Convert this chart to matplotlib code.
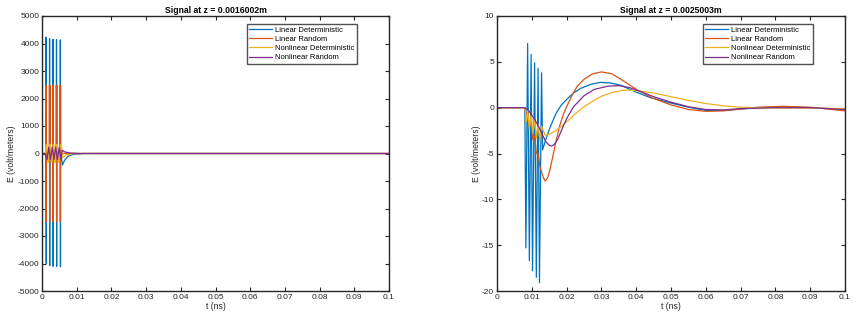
import matplotlib
matplotlib.use("Agg")
from matplotlib import pyplot as plt

plt.rcParams['font.family'] = ['Liberation Sans', 'DejaVu Sans']
plt.rcParams['axes.unicode_minus'] = False

# ---- left panel, z = 0.0016002m ----
leftLinDetT = [0, 0.00116, 0.00118, 0.00122, 0.00124,
               0.00216, 0.00218, 0.00222, 0.00224,
               0.00316, 0.00318, 0.00322, 0.00324,
               0.00416, 0.00418, 0.00422, 0.00424,
               0.00526, 0.00528, 0.00532, 0.00534,
               0.0056, 0.0059, 0.0065, 0.0075, 0.009, 0.012, 0.1]
leftLinDetE = [0, 0, 4230, -4000, 0,
               0, 4180, -4080, 0,
               0, 4150, -4100, 0,
               0, 4140, -4100, 0,
               0, 4130, -4120, 0,
               -150, -420, -250, -100, -30, 0, 0]

leftLinRanT = [0, 0.00112, 0.00115, 0.0012, 0.00125, 0.00128,
               0.00212, 0.00215, 0.0022, 0.00225, 0.00228,
               0.00312, 0.00315, 0.0032, 0.00325, 0.00328,
               0.00412, 0.00415, 0.0042, 0.00425, 0.00428,
               0.00522, 0.00525, 0.0053, 0.00535, 0.00538, 0.1]
leftLinRanE = [0, 0, 2480, -2480, 2480, 0,
               0, 2480, -2480, 2480, 0,
               0, 2480, -2480, 2480, 0,
               0, 2480, -2480, 2480, 0,
               0, 2480, -2480, 2480, 0, 0]

leftNonDetT = [0, 0.0010, 0.0012, 0.0014, 0.0017, 0.0019, 0.0022, 0.0024, 0.0027, 0.0029,
               0.0032, 0.0034, 0.0037, 0.0039, 0.0042, 0.0044, 0.0047, 0.0049, 0.0053,
               0.0055, 0.0060, 0.0070, 0.0090, 0.1]
leftNonDetE = [0, 0, 330, 330, -320, -320, 330, 330, -320, -320,
               330, 330, -320, -320, 330, 330, -320, -320, 330,
               330, -150, -50, 0, 0]

leftNonRanT = [0, 0.0009, 0.00145, 0.00195, 0.00245, 0.00295, 0.00345, 0.00395, 0.00445,
               0.00495, 0.0054, 0.0058, 0.0065, 0.008, 0.011, 0.1]
leftNonRanE = [0, 0, -220, 230, -220, 230, -220, 230, -220,
               230, -200, 120, 60, 20, 0, 0]

# ---- right panel, z = 0.0025003m ----
rightLinDetT = [0, 0.0080, 0.0083, 0.0088, 0.0093, 0.0098, 0.0102, 0.0108, 0.0113, 0.0118,
                0.0122, 0.0128, 0.0131, 0.0140, 0.0153, 0.0170, 0.0185, 0.020, 0.022, 0.024,
                0.027, 0.0297, 0.0325, 0.0355, 0.040, 0.044, 0.047, 0.050, 0.055, 0.060,
                0.065, 0.070, 0.075, 0.080, 0.085, 0.090, 0.095, 0.1]
rightLinDetE = [0, 0, -15.3, 7.0, -16.7, 5.8, -17.8, 4.9, -18.5, 4.3,
                -19.1, 3.8, -4.6, -3.5, -2.1, -0.6, 0.3, 0.9, 1.6, 2.1,
                2.55, 2.76, 2.7, 2.45, 1.7, 1.1, 0.8, 0.5, 0.05, -0.3,
                -0.3, -0.15, -0.02, 0.05, 0.05, 0.0, -0.1, -0.2]

rightLinRanT = [0, 0.0080, 0.0083, 0.0088, 0.0093, 0.0098, 0.0103, 0.0108, 0.0113, 0.0118,
                0.0123, 0.0128, 0.0133, 0.0138, 0.0145, 0.0152, 0.0160, 0.0170, 0.0180, 0.0190,
                0.0200, 0.0215, 0.0230, 0.0250, 0.0275, 0.0300, 0.0330, 0.0360, 0.0400, 0.0450,
                0.0500, 0.0550, 0.0600, 0.0650, 0.0700, 0.0750, 0.0820, 0.0900, 0.1]
rightLinRanE = [0, 0, -0.8, -0.4, -2.0, -1.6, -3.5, -3.1, -5.0, -5.0,
                -6.4, -7.0, -7.6, -8.0, -7.7, -6.8, -5.4, -3.6, -2.0, -0.8,
                0.1, 1.3, 2.3, 3.1, 3.7, 3.9, 3.7, 3.0, 2.0, 1.0,
                0.3, -0.2, -0.4, -0.35, -0.15, 0.05, 0.15, 0.05, -0.35]

rightNonDetT = [0, 0.0080, 0.0085, 0.0088, 0.0093, 0.0098, 0.0103, 0.0108, 0.0113, 0.0118,
                0.0123, 0.0128, 0.0138, 0.0150, 0.0170, 0.0190, 0.0210, 0.0230, 0.0250, 0.0275,
                0.0300, 0.0330, 0.0360, 0.0380, 0.0400, 0.0450, 0.0500, 0.0550, 0.0600, 0.0650,
                0.0700, 0.0800, 0.0900, 0.1]
rightNonDetE = [0, 0, -1.5, -0.3, -2.3, -0.8, -2.8, -1.3, -3.3, -1.8,
                -3.6, -2.0, -3.0, -2.9, -2.5, -1.9, -1.2, -0.5, 0.1, 0.7,
                1.25, 1.65, 1.88, 1.92, 1.85, 1.6, 1.2, 0.8, 0.45, 0.2,
                0.05, -0.05, -0.05, -0.1]

rightNonRanT = [0, 0.0080, 0.0090, 0.0100, 0.0110, 0.0120, 0.0130, 0.0140, 0.0150, 0.0157,
                0.0165, 0.0175, 0.0185, 0.0200, 0.0220, 0.0250, 0.0280, 0.0320, 0.0350, 0.0380,
                0.0410, 0.0450, 0.0500, 0.0550, 0.0600, 0.0650, 0.0700, 0.0800, 0.0900, 0.1]
rightNonRanE = [0, 0, -0.3, -0.8, -1.4, -2.1, -2.9, -3.7, -4.1, -4.2,
                -4.0, -3.4, -2.5, -1.2, 0.1, 1.3, 2.0, 2.35, 2.4, 2.2,
                1.8, 1.2, 0.6, 0.1, -0.2, -0.25, -0.1, 0.0, 0.0, -0.2]

seriesNames = ["Linear Deterministic", "Linear Random", "Nonlinear Deterministic", "Nonlinear Random"]
colors = ["#0072BD", "#D95319", "#EDB120", "#7E2F8E"]
titles = ["Signal at z = 0.0016002m", "Signal at z = 0.0025003m"]
xTicks = [0, 0.01, 0.02, 0.03, 0.04, 0.05, 0.06, 0.07, 0.08, 0.09, 0.1]
xTickLabels = ["0", "0.01", "0.02", "0.03", "0.04", "0.05", "0.06", "0.07", "0.08", "0.09", "0.1"]
leftYTicks = [-5000, -4000, -3000, -2000, -1000, 0, 1000, 2000, 3000, 4000, 5000]
rightYTicks = [-20, -15, -10, -5, 0, 5, 10]

axisColor = "#262626"

fig = plt.figure(figsize=(8.56, 3.22), dpi=100)
axLeft = fig.add_axes([42 / 856, 31 / 322, 347 / 856, 275 / 322])
axRight = fig.add_axes([497 / 856, 31 / 322, 348 / 856, 275 / 322])

leftData = [(leftLinDetT, leftLinDetE), (leftLinRanT, leftLinRanE),
            (leftNonDetT, leftNonDetE), (leftNonRanT, leftNonRanE)]
rightData = [(rightLinDetT, rightLinDetE), (rightLinRanT, rightLinRanE),
             (rightNonDetT, rightNonDetE), (rightNonRanT, rightNonRanE)]

for ax, data, title, yTicks in [(axLeft, leftData, titles[0], leftYTicks),
                                (axRight, rightData, titles[1], rightYTicks)]:
    for (t, e), name, c in zip(data, seriesNames, colors):
        ax.plot(t, e, color=c, linewidth=0.9, label=name)

    ax.set_xlim(0, 0.1)
    ax.set_ylim(yTicks[0], yTicks[-1])
    ax.set_xticks(xTicks)
    ax.set_xticklabels(xTickLabels)
    ax.set_yticks(yTicks)
    ax.tick_params(direction="in", length=3, width=0.8, labelsize=6, colors=axisColor,
                   top=True, right=True, pad=2)
    for spine in ax.spines.values():
        spine.set_color(axisColor)
        spine.set_linewidth(1.0)
    ax.set_title(title, fontsize=6.2, fontweight="bold", color="black", pad=2)
    ax.set_xlabel("t (ns)", fontsize=6.2, color=axisColor, labelpad=1)
    ax.set_ylabel("E (volt/meters)", fontsize=6.2, color=axisColor, labelpad=1)

    leg = ax.legend(loc="upper right", bbox_to_anchor=(0.908, 0.971), fontsize=5.5,
                    frameon=True, fancybox=False, handlelength=3.0, borderpad=0.3,
                    labelspacing=0.25, handletextpad=0.4, borderaxespad=0)
    leg.get_frame().set_edgecolor(axisColor)
    leg.get_frame().set_linewidth(1.0)

fig.savefig("out.png", dpi=100)
plt.close()
